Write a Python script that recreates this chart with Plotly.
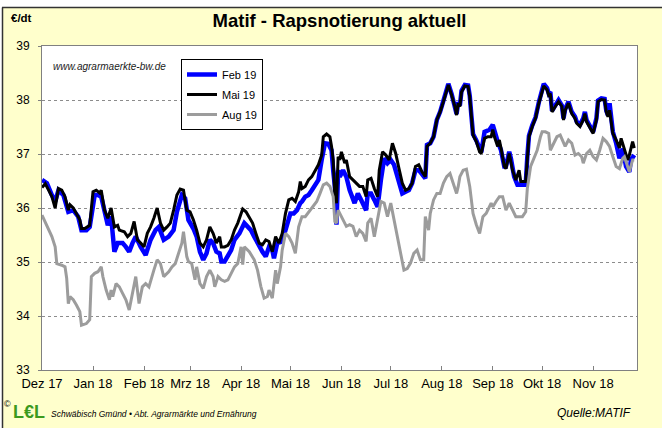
import plotly.graph_objects as go

# ---------------- data ----------------
feb19_dates = ["2017-12-01","2017-12-04","2017-12-07","2017-12-09","2017-12-11","2017-12-14","2017-12-17","2017-12-20","2017-12-23","2017-12-25","2017-12-28","2017-12-30",
 "2018-01-02","2018-01-04","2018-01-06","2018-01-08","2018-01-10","2018-01-12","2018-01-14","2018-01-16","2018-01-19","2018-01-21","2018-01-23","2018-01-25","2018-01-27","2018-01-30",
 "2018-02-02","2018-02-05","2018-02-08","2018-02-10","2018-02-13","2018-02-16","2018-02-19","2018-02-21","2018-02-24","2018-02-26","2018-02-28",
 "2018-03-03","2018-03-05","2018-03-07","2018-03-09","2018-03-11","2018-03-13","2018-03-15","2018-03-17","2018-03-19","2018-03-20","2018-03-22","2018-03-24","2018-03-26","2018-03-28","2018-03-31",
 "2018-04-03","2018-04-05","2018-04-07","2018-04-09","2018-04-11","2018-04-14","2018-04-16","2018-04-18","2018-04-20","2018-04-21","2018-04-23","2018-04-26","2018-04-28",
 "2018-05-01","2018-05-03","2018-05-05","2018-05-07","2018-05-08","2018-05-10","2018-05-12","2018-05-14","2018-05-16","2018-05-18","2018-05-20","2018-05-22","2018-05-24","2018-05-26","2018-05-27","2018-05-28","2018-05-29","2018-05-30","2018-05-31",
 "2018-06-02","2018-06-04","2018-06-06","2018-06-09","2018-06-11","2018-06-13","2018-06-16","2018-06-17","2018-06-19","2018-06-21","2018-06-23","2018-06-25","2018-06-27","2018-06-29",
 "2018-07-01","2018-07-03","2018-07-05","2018-07-08","2018-07-10","2018-07-12","2018-07-14","2018-07-16","2018-07-18","2018-07-20","2018-07-22","2018-07-23","2018-07-25","2018-07-27","2018-07-29","2018-07-31",
 "2018-08-02","2018-08-04","2018-08-05","2018-08-07","2018-08-09","2018-08-10","2018-08-11","2018-08-12","2018-08-13","2018-08-15","2018-08-17","2018-08-18","2018-08-19","2018-08-20","2018-08-22","2018-08-24","2018-08-25","2018-08-27","2018-08-30",
 "2018-09-01","2018-09-02","2018-09-04","2018-09-06","2018-09-08","2018-09-09","2018-09-11","2018-09-12","2018-09-14","2018-09-16","2018-09-18","2018-09-21","2018-09-22","2018-09-23","2018-09-25","2018-09-27","2018-09-29",
 "2018-10-01","2018-10-02","2018-10-04","2018-10-05","2018-10-06","2018-10-07","2018-10-09","2018-10-11","2018-10-13","2018-10-14","2018-10-15","2018-10-17","2018-10-19","2018-10-21","2018-10-22","2018-10-24","2018-10-26","2018-10-27","2018-10-28","2018-10-30",
 "2018-11-01","2018-11-03","2018-11-04","2018-11-06","2018-11-08","2018-11-09","2018-11-10","2018-11-11","2018-11-13","2018-11-15","2018-11-17","2018-11-19","2018-11-21","2018-11-23","2018-11-24","2018-11-26"]
feb19_values = [36.52,36.46,36.24,36.12,36.33,36.24,35.93,35.96,35.84,35.59,35.59,35.65,
 36.24,36.24,36.21,35.90,35.68,35.84,35.19,35.35,35.35,35.28,35.19,35.35,35.47,35.28,
 35.13,35.41,35.59,35.65,35.41,35.47,35.59,35.93,36.24,36.18,35.78,
 35.62,35.47,35.19,35.04,35.16,35.41,35.35,35.19,35.16,35.01,35.01,35.13,35.22,35.41,35.53,
 35.72,35.66,35.59,35.47,35.35,35.19,35.10,35.28,35.22,35.07,35.35,35.38,35.59,
 35.90,35.90,35.96,36.09,36.12,36.21,36.24,36.33,36.43,36.52,36.89,37.20,37.19,37.07,36.70,36.40,35.69,36.70,36.58,
 36.70,36.58,36.33,36.09,36.27,36.15,35.96,36.27,36.27,36.15,36.02,36.52,36.92,36.83,
 36.89,36.80,36.58,36.27,36.30,36.33,36.46,36.70,36.70,36.61,36.55,37.17,37.20,37.32,37.63,37.78,
 37.99,38.21,38.30,38.11,37.90,37.74,37.96,37.90,38.17,38.28,38.27,38.08,37.71,37.37,37.25,37.06,37.03,37.41,37.45,
 37.54,37.41,37.23,37.07,36.77,36.77,37.04,36.92,36.58,36.43,36.43,36.43,36.95,37.34,37.53,37.68,37.96,
 38.22,38.30,38.22,38.12,38.15,37.80,37.90,38.00,37.90,37.66,37.83,37.97,37.78,37.69,37.60,37.54,37.66,37.78,37.63,37.51,
 37.41,37.66,37.99,38.03,38.02,37.80,37.72,37.94,37.41,37.20,36.92,37.10,36.77,36.67,36.89,36.98]

mai19_dates = ["2017-12-01","2017-12-03","2017-12-05","2017-12-07","2017-12-09","2017-12-11","2017-12-13","2017-12-15","2017-12-17","2017-12-18","2017-12-20","2017-12-22","2017-12-24","2017-12-25","2017-12-27","2017-12-30",
 "2018-01-01","2018-01-03","2018-01-05","2018-01-06","2018-01-08","2018-01-10","2018-01-12","2018-01-14","2018-01-16","2018-01-17","2018-01-20","2018-01-22","2018-01-24","2018-01-26","2018-01-28","2018-01-30",
 "2018-02-01","2018-02-03","2018-02-05","2018-02-07","2018-02-09","2018-02-11","2018-02-13","2018-02-15","2018-02-17","2018-02-19","2018-02-21","2018-02-23","2018-02-25","2018-02-27",
 "2018-03-01","2018-03-03","2018-03-05","2018-03-07","2018-03-09","2018-03-11","2018-03-13","2018-03-15","2018-03-17","2018-03-19","2018-03-20","2018-03-22","2018-03-24","2018-03-26","2018-03-28","2018-03-30",
 "2018-04-01","2018-04-02","2018-04-04","2018-04-06","2018-04-08","2018-04-10","2018-04-12","2018-04-14","2018-04-16","2018-04-18","2018-04-20","2018-04-22","2018-04-24","2018-04-26","2018-04-28","2018-04-30",
 "2018-05-02","2018-05-04","2018-05-06","2018-05-07","2018-05-08","2018-05-10","2018-05-12","2018-05-14","2018-05-16","2018-05-18","2018-05-20","2018-05-21","2018-05-23","2018-05-25","2018-05-26","2018-05-27","2018-05-28","2018-05-29","2018-05-30","2018-05-31",
 "2018-06-01","2018-06-03","2018-06-04","2018-06-06","2018-06-08","2018-06-10","2018-06-12","2018-06-14","2018-06-16","2018-06-17","2018-06-19","2018-06-21","2018-06-23","2018-06-24","2018-06-26","2018-06-28","2018-06-30",
 "2018-07-02","2018-07-04","2018-07-06","2018-07-08","2018-07-10","2018-07-12","2018-07-14","2018-07-16","2018-07-18","2018-07-20","2018-07-22","2018-07-23","2018-07-25","2018-07-27","2018-07-29","2018-07-31",
 "2018-08-02","2018-08-04","2018-08-05","2018-08-07","2018-08-09","2018-08-10","2018-08-11","2018-08-12","2018-08-13","2018-08-15","2018-08-17","2018-08-18","2018-08-19","2018-08-20","2018-08-22","2018-08-24","2018-08-25","2018-08-27","2018-08-29","2018-08-31",
 "2018-09-01","2018-09-02","2018-09-04","2018-09-05","2018-09-06","2018-09-08","2018-09-09","2018-09-11","2018-09-13","2018-09-15","2018-09-17","2018-09-18","2018-09-21","2018-09-22","2018-09-23","2018-09-25","2018-09-27","2018-09-29",
 "2018-10-01","2018-10-02","2018-10-04","2018-10-05","2018-10-06","2018-10-07","2018-10-09","2018-10-11","2018-10-13","2018-10-14","2018-10-15","2018-10-17","2018-10-19","2018-10-21","2018-10-22","2018-10-24","2018-10-26","2018-10-27","2018-10-28","2018-10-30",
 "2018-11-01","2018-11-03","2018-11-04","2018-11-06","2018-11-08","2018-11-09","2018-11-10","2018-11-11","2018-11-12","2018-11-13","2018-11-15","2018-11-17","2018-11-18","2018-11-20","2018-11-22","2018-11-23","2018-11-25","2018-11-26"]
mai19_values = [36.38,36.45,36.33,36.21,36.00,36.36,36.33,36.21,35.96,36.06,36.00,35.90,35.78,35.62,35.62,35.68,
 36.30,36.33,36.28,36.33,35.96,35.81,36.00,35.65,35.68,35.59,35.56,35.47,35.53,35.75,35.41,35.35,
 35.28,35.53,35.65,35.81,36.00,35.72,35.59,35.65,35.72,35.96,36.24,36.35,36.33,35.96,
 35.93,35.78,35.59,35.35,35.28,35.41,35.65,35.53,35.35,35.47,35.28,35.28,35.31,35.41,35.59,35.72,
 35.90,35.98,35.93,35.81,35.72,35.53,35.35,35.32,35.41,35.38,35.19,35.47,35.35,35.53,35.90,36.15,
 36.18,36.12,36.30,36.49,36.36,36.40,36.52,36.58,36.70,36.80,36.98,37.32,37.37,37.32,37.14,36.89,36.21,36.09,36.95,36.89,
 37.04,36.83,36.89,36.58,36.52,36.46,36.40,36.40,36.21,36.52,36.55,36.36,36.21,36.70,37.04,36.98,36.89,
 37.20,37.01,36.73,36.46,36.33,36.36,36.46,36.77,36.80,36.67,36.58,37.14,37.20,37.32,37.63,37.78,
 37.97,38.19,38.28,38.09,37.88,37.72,37.94,37.88,38.15,38.26,38.25,38.06,37.69,37.35,37.23,37.04,37.01,37.29,37.32,37.32,
 37.45,37.32,37.14,37.26,37.11,36.77,36.73,37.01,36.70,36.52,36.70,36.49,36.49,36.95,37.32,37.51,37.66,37.94,
 38.19,38.26,38.19,38.09,38.12,37.78,37.88,37.97,37.88,37.63,37.81,37.94,37.75,37.66,37.57,37.51,37.63,37.75,37.60,37.48,
 37.38,37.63,37.97,38.01,38.00,37.78,37.69,37.81,37.63,37.38,37.26,37.11,37.29,37.07,36.89,36.98,37.23,37.11]

aug19_dates = ["2017-12-01","2017-12-04","2017-12-07","2017-12-09","2017-12-10","2017-12-13","2017-12-15","2017-12-16","2017-12-17","2017-12-18","2017-12-20","2017-12-22","2017-12-24","2017-12-25","2017-12-28","2017-12-30","2017-12-31",
 "2018-01-02","2018-01-04","2018-01-06","2018-01-07","2018-01-09","2018-01-11","2018-01-12","2018-01-13","2018-01-15","2018-01-17","2018-01-19","2018-01-21","2018-01-23","2018-01-25","2018-01-27","2018-01-29","2018-01-31",
 "2018-02-02","2018-02-04","2018-02-07","2018-02-09","2018-02-11","2018-02-13","2018-02-16","2018-02-18","2018-02-20","2018-02-22","2018-02-24","2018-02-25","2018-02-27","2018-02-28",
 "2018-03-02","2018-03-04","2018-03-05","2018-03-07","2018-03-09","2018-03-11","2018-03-13","2018-03-15","2018-03-16","2018-03-18","2018-03-20","2018-03-22","2018-03-24","2018-03-26","2018-03-28","2018-03-30",
 "2018-04-01","2018-04-02","2018-04-03","2018-04-06","2018-04-09","2018-04-11","2018-04-13","2018-04-15","2018-04-17","2018-04-18","2018-04-20","2018-04-22","2018-04-23","2018-04-25","2018-04-26","2018-04-28","2018-04-30",
 "2018-05-02","2018-05-04","2018-05-06","2018-05-08","2018-05-10","2018-05-13","2018-05-15","2018-05-17","2018-05-19","2018-05-21","2018-05-23","2018-05-25","2018-05-27","2018-05-28","2018-05-29","2018-05-30","2018-05-31",
 "2018-06-02","2018-06-04","2018-06-06","2018-06-08","2018-06-10","2018-06-12","2018-06-14","2018-06-16","2018-06-17","2018-06-19","2018-06-21","2018-06-23","2018-06-25","2018-06-27","2018-06-29",
 "2018-07-01","2018-07-03","2018-07-05","2018-07-07","2018-07-09","2018-07-11","2018-07-13","2018-07-15","2018-07-17","2018-07-19","2018-07-21","2018-07-22","2018-07-24","2018-07-25","2018-07-27","2018-07-29","2018-07-31",
 "2018-08-02","2018-08-04","2018-08-06","2018-08-08","2018-08-10","2018-08-11","2018-08-12","2018-08-14","2018-08-16","2018-08-18","2018-08-20","2018-08-22","2018-08-24","2018-08-26","2018-08-28","2018-08-31",
 "2018-09-01","2018-09-03","2018-09-05","2018-09-07","2018-09-09","2018-09-11","2018-09-13","2018-09-15","2018-09-17","2018-09-19","2018-09-21","2018-09-22","2018-09-24","2018-09-26","2018-09-28","2018-09-30",
 "2018-10-01","2018-10-03","2018-10-05","2018-10-06","2018-10-08","2018-10-10","2018-10-12","2018-10-14","2018-10-15","2018-10-17","2018-10-19","2018-10-21","2018-10-23","2018-10-25","2018-10-26","2018-10-28","2018-10-30",
 "2018-11-01","2018-11-03","2018-11-05","2018-11-07","2018-11-09","2018-11-11","2018-11-13","2018-11-15","2018-11-17","2018-11-19","2018-11-20","2018-11-22","2018-11-23","2018-11-25","2018-11-26"]
aug19_values = [35.87,35.68,35.47,35.28,34.97,34.94,34.91,34.70,34.23,34.36,34.30,34.20,34.08,33.83,33.86,33.93,34.73,
 34.79,34.82,34.91,34.73,34.48,34.30,34.48,34.36,34.60,34.54,34.42,34.30,34.11,34.42,34.73,34.23,34.54,
 34.60,34.54,34.85,35.04,34.97,34.73,34.82,34.91,34.97,35.16,35.35,35.56,35.10,35.01,
 34.97,34.67,34.91,34.60,34.51,34.73,34.85,34.73,34.54,34.73,34.67,34.64,34.67,34.79,34.91,34.97,
 35.28,34.95,35.28,35.19,35.04,34.85,34.55,34.33,34.36,34.48,34.33,34.85,34.60,34.91,35.22,35.53,35.47,
 35.35,35.16,35.65,35.84,35.84,35.96,36.03,36.12,36.27,36.43,36.46,36.40,36.21,35.75,35.72,35.96,35.90,
 35.78,35.66,35.69,35.66,35.47,35.59,35.53,35.38,35.72,35.81,35.47,35.78,36.12,36.09,35.84,
 36.09,35.78,35.41,35.16,34.85,34.88,34.98,35.16,35.22,35.04,35.04,35.84,35.59,35.90,36.15,36.27,36.27,
 36.46,36.58,36.64,36.46,36.27,36.40,36.58,36.70,36.72,36.40,35.90,35.69,35.53,35.84,35.90,36.09,
 36.02,36.12,36.21,36.21,35.96,36.09,35.96,35.84,35.84,35.84,35.93,36.36,36.77,36.92,37.07,37.32,
 37.41,37.41,37.38,37.07,37.20,37.32,37.35,37.23,37.14,37.26,37.20,36.98,37.01,36.95,36.83,37.01,37.07,
 36.95,36.89,37.07,37.29,37.23,37.14,36.95,36.77,36.73,36.92,36.95,36.73,36.67,36.89,36.89]

tick_dates = ["2017-12-01","2018-01-01","2018-02-01","2018-03-01","2018-04-01","2018-05-01",
              "2018-06-01","2018-07-01","2018-08-01","2018-09-01","2018-10-01","2018-11-01"]
tick_labels = ["Dez 17","Jan 18","Feb 18","Mrz 18","Apr 18","Mai 18",
               "Jun 18","Jul 18","Aug 18","Sep 18","Okt 18","Nov 18"]
y_ticks = [33, 34, 35, 36, 37, 38, 39]

# ---------------- layout helpers (pixel -> paper) ----------------
W, H = 662, 428
L, R, T, B = 42, 637, 46, 370
def xp(px):
    return (px - L) / (R - L)
def yp(py):
    return (B - py) / (B - T)

FONT = "Arial, Liberation Sans, sans-serif"

fig = go.Figure()
fig.add_trace(go.Scatter(x=feb19_dates, y=feb19_values, mode="lines", name="Feb 19",
                         legendgroup="a", line=dict(color="#0000FF", width=4.5)))
fig.add_trace(go.Scatter(x=mai19_dates, y=mai19_values, mode="lines", name="Mai 19",
                         legendgroup="b", line=dict(color="#000000", width=3)))
fig.add_trace(go.Scatter(x=aug19_dates, y=aug19_values, mode="lines", name="Aug 19",
                         legendgroup="c", line=dict(color="#9C9C9C", width=3)))

fig.update_layout(
    width=W, height=H,
    margin=dict(l=L, r=W - R, t=T, b=H - B, pad=0),
    paper_bgcolor="#FFFFCC",
    plot_bgcolor="#FFFFFF",
    font=dict(family=FONT, color="#000000", size=12),
    title=dict(text="<b>Matif - Rapsnotierung aktuell</b>", x=0.5, xref="paper",
               xanchor="center", y=1 - 21 / H, yanchor="middle",
               font=dict(family=FONT, size=18.5, color="#000000")),
    showlegend=True,
    legend=dict(x=xp(181), y=yp(59), xanchor="left", yanchor="top",
                bgcolor="#FFFFFF", bordercolor="#000000", borderwidth=1,
                font=dict(family=FONT, size=11, color="#000000"),
                itemwidth=30, tracegroupgap=1),
    xaxis=dict(type="date", range=["2017-12-01", "2018-11-27 16:00"],
               tickmode="array", tickvals=tick_dates, ticktext=tick_labels,
               tickfont=dict(family=FONT, size=13, color="#000000"),
               ticks="inside", ticklen=4, tickcolor="#808080", ticklabelstandoff=1,
               showgrid=False, zeroline=False,
               showline=True, linecolor="#808080", linewidth=1, mirror=True),
    yaxis=dict(range=[33, 39], tickmode="array", tickvals=y_ticks,
               tickfont=dict(family=FONT, size=12, color="#000000"),
               ticks="outside", ticklen=3, tickcolor="#808080", ticklabelstandoff=6,
               showgrid=True, gridcolor="#8C8C8C", griddash="dot", gridwidth=1,
               zeroline=False,
               showline=True, linecolor="#808080", linewidth=1, mirror=True),
)

# outer frame (white strip at top/left with a dark frame line)
fig.add_shape(type="rect", xref="paper", yref="paper", x0=xp(-5), x1=xp(670),
              y0=yp(7), y1=yp(-5), fillcolor="#FFFFFF", line=dict(width=0), layer="above")
fig.add_shape(type="rect", xref="paper", yref="paper", x0=xp(-5), x1=xp(2),
              y0=yp(435), y1=yp(-5), fillcolor="#FFFFFF", line=dict(width=0), layer="above")
fig.add_shape(type="line", xref="paper", yref="paper", x0=xp(2), x1=xp(670),
              y0=yp(7.5), y1=yp(7.5), line=dict(color="#333333", width=1.5), layer="above")
fig.add_shape(type="line", xref="paper", yref="paper", x0=xp(2.5), x1=xp(2.5),
              y0=yp(7.5), y1=yp(435), line=dict(color="#333333", width=1.5), layer="above")

annos = [
    dict(text="<b>€/dt</b>", x=xp(21), y=yp(18), xanchor="center", yanchor="middle",
         font=dict(family=FONT, size=11.5, color="#000000")),
    dict(text="<i>www.agrarmaerkte-bw.de</i>", x=xp(51), y=yp(66), xanchor="left", yanchor="middle",
         font=dict(family=FONT, size=10, color="#222222")),
    dict(text="©", x=xp(2), y=yp(404), xanchor="left", yanchor="middle",
         font=dict(family=FONT, size=9, color="#000000")),
    dict(text="<b>L€L</b>", x=xp(11), y=yp(412), xanchor="left", yanchor="middle",
         font=dict(family=FONT, size=18, color="#3C9A1E")),
    dict(text="<i>Schwäbisch Gmünd • Abt. Agrarmärkte und Ernährung</i>", x=xp(49), y=yp(414),
         xanchor="left", yanchor="middle", font=dict(family=FONT, size=8.5, color="#000000")),
    dict(text="<i>Quelle:MATIF</i>", x=xp(633), y=yp(413), xanchor="right", yanchor="middle",
         font=dict(family=FONT, size=12, color="#000000")),
]
for a in annos:
    fig.add_annotation(xref="paper", yref="paper", showarrow=False, **a)

fig.write_html("out.html", config={"displayModeBar": False},
               post_script="document.body.style.margin='0';document.body.style.padding='0';")
